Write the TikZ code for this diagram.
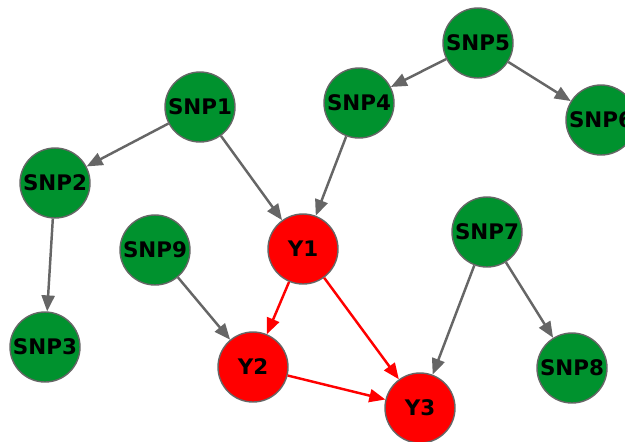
\documentclass[tikz,border=0pt]{standalone}
\usepackage{fontspec}
\setmainfont{DejaVu Sans}
\usetikzlibrary{arrows.meta, positioning}
\definecolor{snpcolor}{RGB}{0,146,46}
\definecolor{traitcolor}{RGB}{255,0,0}
\definecolor{edgecolor}{RGB}{102,102,102}

\begin{document}
\begin{tikzpicture}[
    x=0.02cm, y=-0.02cm,
    >={Triangle[length=3.2mm, width=2.6mm]},
    snp/.style={circle, draw=edgecolor, fill=snpcolor, line width=0.8pt, minimum size=1.4cm, inner sep=0pt, font=\bfseries\fontsize{12.2}{14}\selectfont},
    trait/.style={snp, fill=traitcolor},
    link/.style={->, line width=1.4pt, edgecolor},
    causal/.style={link, traitcolor},
]
    \useasboundingbox (0,0) rectangle (625,441);
    \clip (0,0) rectangle (625,441);
    % SNPs
    \node[snp] (snp1) at (200,107) {SNP1};
    \node[snp] (snp2) at (55,183) {SNP2};
    \node[snp] (snp3) at (45,347) {SNP3};
    \node[snp] (snp4) at (359,103) {SNP4};
    \node[snp] (snp5) at (478,43) {SNP5};
    \node[snp] (snp6) at (601,120) {SNP6};
    \node[snp] (snp7) at (487,232) {SNP7};
    \node[snp] (snp8) at (572,368) {SNP8};
    \node[snp] (snp9) at (155,250) {SNP9};
    % Traits
    \node[trait] (y1) at (303,249) {Y1};
    \node[trait] (y2) at (253,367) {Y2};
    \node[trait] (y3) at (420,408) {Y3};

    % SNP effects
    \draw[link] (snp5) -- (snp4);
    \draw[link] (snp5) -- (snp6);
    \draw[link] (snp1) -- (snp2);
    \draw[link] (snp2) -- (snp3);
    \draw[link] (snp1) -- (y1);
    \draw[link] (snp4) -- (y1);
    \draw[link] (snp9) -- (y2);
    \draw[link] (snp7) -- (y3);
    \draw[link] (snp7) -- (snp8);

    % Trait to trait
    \draw[causal] (y1) -- (y2);
    \draw[causal] (y1) -- (y3);
    \draw[causal] (y2) -- (y3);
\end{tikzpicture}
\end{document}
